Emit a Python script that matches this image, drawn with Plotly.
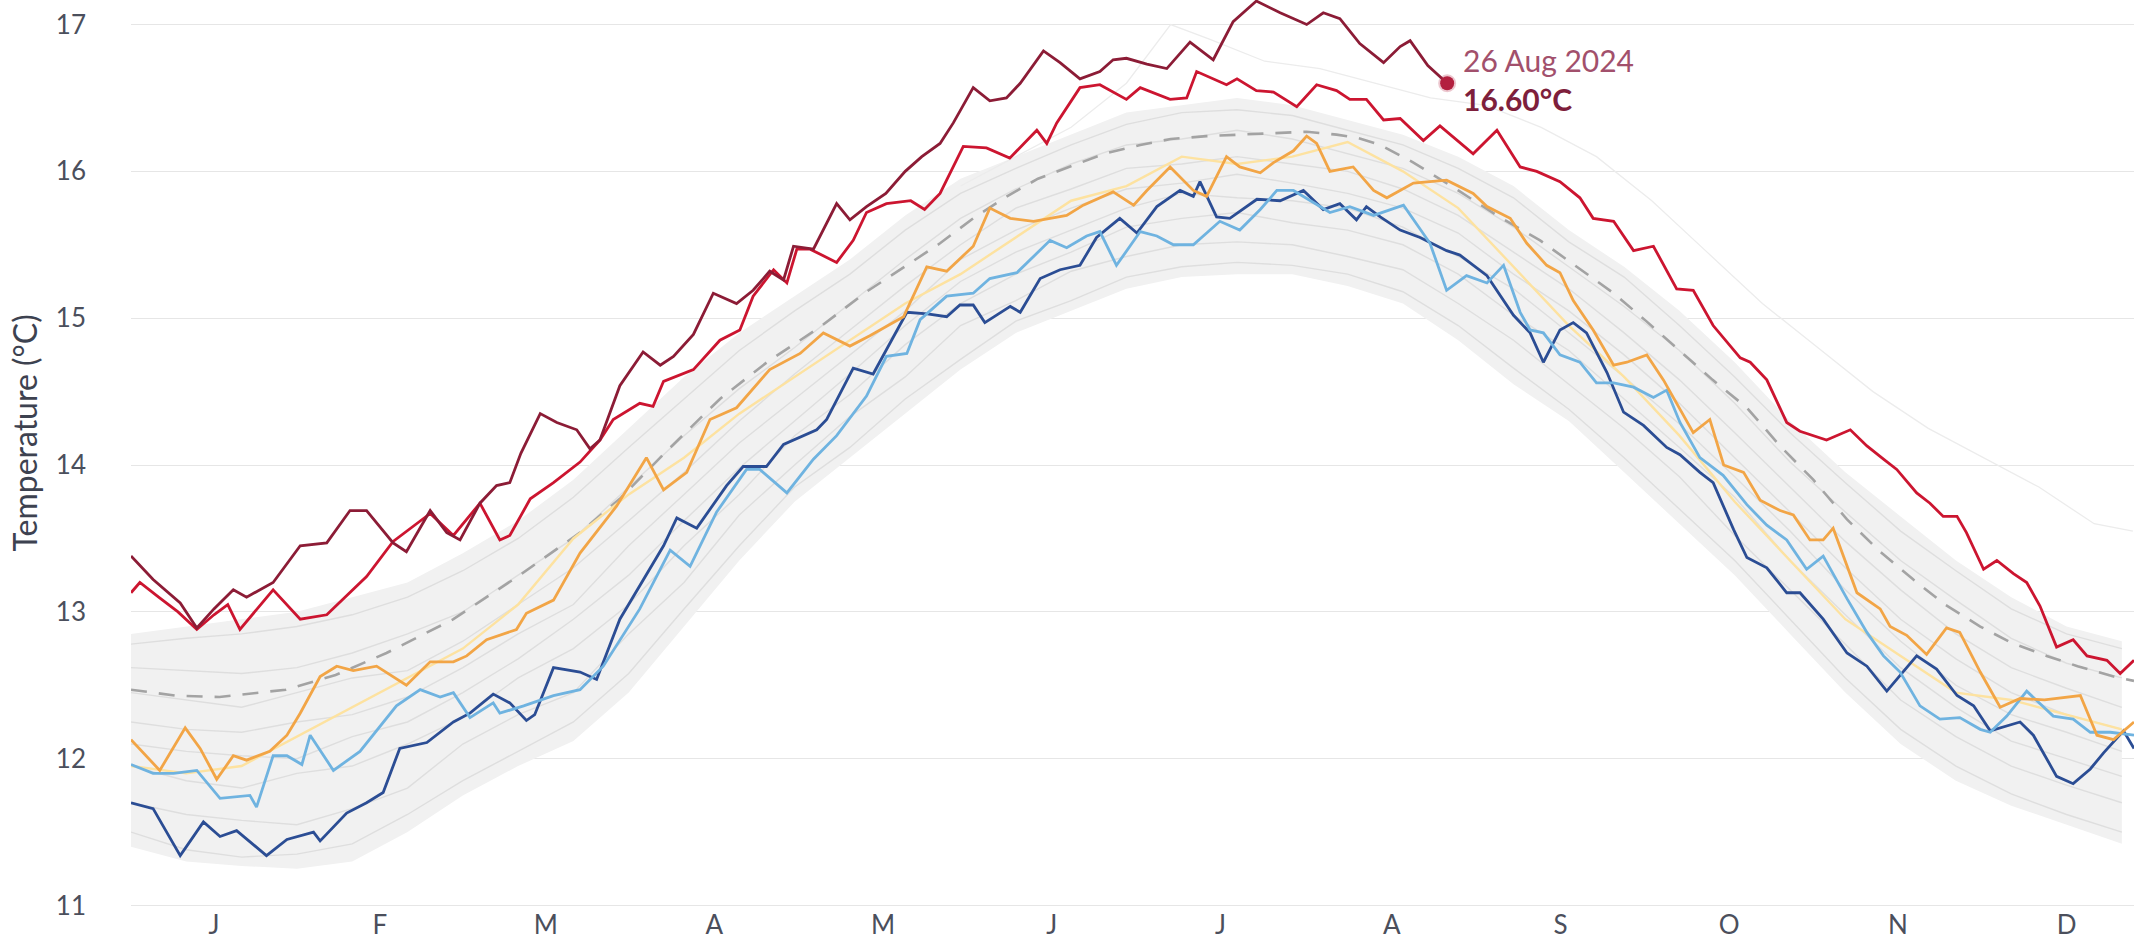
import plotly.graph_objects as go

FONT = "Lato, 'Open Sans', sans-serif"
TICK_COLOR = "#4b4f5c"
GRID_COLOR = "#e6e6e6"

# month labels (day of year, leap-year 2024 calendar)
month_days = [15, 45, 75, 105.5, 136, 166.5, 197, 228, 258.5, 289, 319.5, 350]
month_labels = ["J", "F", "M", "A", "M", "J", "J", "A", "S", "O", "N", "D"]

# 2024 (runs to 26 Aug)
days_2024 = [0, 4, 8.9, 11.9, 15, 18.5, 20.9, 25.7, 30.6, 35.4, 39.6, 42.6, 47.4, 49.8, 54.1, 57.1, 59.5,
             63.1, 66.1, 68.5, 70.5, 74.0, 77.0, 80.6, 83.0, 84.8, 88.4, 92.6, 95.7, 98.1, 101.7, 105.3,
             109.5, 112.5, 115.5, 118.0, 119.8, 123.4, 127.6, 130.0, 133.0, 136.5, 140, 143, 146.3, 148.7,
             152.3, 155.3, 158.3, 160.8, 165.0, 168.0, 171.6, 175.2, 177.6, 180.0, 183.7, 187.3, 191.5,
             195.7, 199.3, 203.5, 207.8, 212.6, 215.6, 218.6, 222.2, 226.5, 229.5, 231.3, 234.5, 238]
temp_2024 = [13.38, 13.22, 13.06, 12.89, 13.02, 13.15, 13.10, 13.20, 13.45, 13.47, 13.69, 13.69, 13.47, 13.41,
             13.69, 13.54, 13.49, 13.74, 13.86, 13.88, 14.08, 14.35, 14.29, 14.24, 14.11, 14.17, 14.54, 14.77,
             14.68, 14.74, 14.89, 15.17, 15.10, 15.19, 15.32, 15.26, 15.49, 15.47, 15.78, 15.67, 15.76, 15.85,
             16.0, 16.1, 16.19, 16.33, 16.57, 16.48, 16.50, 16.60, 16.82, 16.74, 16.63, 16.68, 16.76, 16.77,
             16.73, 16.70, 16.88, 16.76, 17.02, 17.16, 17.08, 17.00, 17.08, 17.04, 16.87, 16.74, 16.85, 16.89,
             16.72, 16.60]

# 2023
days_2023 = [0, 1.6, 5, 8.5, 11.9, 15, 17.5, 19.7, 25.7, 30.6, 35.4, 42.6, 47.4, 54.1, 58.3, 63.1, 66.7, 68.5,
             72.2, 76.4, 81.2, 84.8, 87.2, 92.0, 94.4, 96.3, 101.7, 106.5, 110.1, 112.5, 116.2, 118.6, 120.4,
             122.8, 127.6, 130.6, 133.0, 136.6, 141, 143.5, 146.3, 150.5, 154.7, 158.9, 163.8, 165.6, 167.4,
             171.6, 175.2, 180.0, 182.5, 187.9, 190.9, 192.7, 198.1, 200.0, 203.5, 206.6, 210.8, 214.4, 218.0,
             220.4, 223.4, 226.5, 229.5, 233.7, 236.7, 242.7, 247.0, 251.2, 254.2, 258.4, 262.0, 264.4, 268.1,
             271.7, 275.3, 279.5, 282.5, 286.1, 291.0, 292.8, 295.8, 299.4, 301.8, 304.2, 306.6, 310.9, 313.9,
             316.9, 319.3, 322.9, 325.3, 327.7, 330.2, 331.9, 335.0, 337.4, 340.4, 342.8, 345.2, 348.2, 351.2,
             353.7, 357.3, 359.7, 362.2]
temp_2023 = [13.13, 13.20, 13.10, 13.00, 12.88, 12.98, 13.05, 12.88, 13.15, 12.95, 12.98, 13.24, 13.48, 13.67,
             13.52, 13.74, 13.49, 13.52, 13.77, 13.88, 14.02, 14.17, 14.31, 14.42, 14.40, 14.57, 14.65, 14.85,
             14.92, 15.15, 15.33, 15.24, 15.47, 15.47, 15.38, 15.53, 15.72, 15.78, 15.80, 15.74, 15.85, 16.17,
             16.16, 16.09, 16.28, 16.19, 16.33, 16.57, 16.59, 16.49, 16.57, 16.49, 16.50, 16.68, 16.59, 16.63,
             16.55, 16.54, 16.44, 16.59, 16.55, 16.49, 16.49, 16.35, 16.36, 16.21, 16.31, 16.12, 16.28, 16.03,
             16.00, 15.93, 15.82, 15.68, 15.66, 15.46, 15.49, 15.20, 15.19, 14.95, 14.73, 14.70, 14.58, 14.29,
             14.23, 14.20, 14.17, 14.24, 14.13, 14.04, 13.97, 13.81, 13.74, 13.65, 13.65, 13.54, 13.29, 13.35,
             13.26, 13.20, 13.04, 12.76, 12.81, 12.70, 12.67, 12.58, 12.67]

# orange year
days_orange = [0, 5.2, 9.8, 12.5, 15.5, 18.5, 20.9, 25.1, 28.2, 30.6, 34.2, 37.2, 40.2, 44.4, 49.8, 54.1, 58.3,
               60.7, 64.3, 69.7, 71.5, 76.4, 81.2, 87.8, 93.2, 96.3, 100.5, 104.7, 109.5, 115.5, 121.0, 125.2,
               130.0, 133.6, 139.7, 143.9, 147.5, 152.3, 155.3, 159.0, 163.2, 169.2, 172.2, 177.6, 181.3, 183.7,
               187.9, 192.1, 194.5, 198.1, 200.5, 204.2, 206.6, 210.2, 212.6, 214.4, 216.8, 221.0, 224.7, 227.1,
               231.9, 237.9, 242.7, 245.2, 249.4, 252.4, 256.0, 258.4, 260.8, 264.4, 268.1, 270.5, 274.1, 277.1,
               282.5, 285.5, 288.0, 291.6, 294.6, 298.2, 300.6, 303.6, 306.0, 307.8, 312.1, 316.3, 318.1, 321.1,
               324.7, 328.3, 330.7, 334.4, 338.0, 341.6, 346.0, 352.5, 355.5, 358.5, 362.2]
temp_orange = [12.13, 11.92, 12.21, 12.07, 11.86, 12.02, 11.99, 12.05, 12.16, 12.31, 12.56, 12.63, 12.60, 12.63,
               12.50, 12.66, 12.66, 12.70, 12.81, 12.88, 12.99, 13.08, 13.40, 13.72, 14.05, 13.83, 13.95, 14.31,
               14.39, 14.65, 14.76, 14.90, 14.81, 14.88, 15.01, 15.35, 15.32, 15.49, 15.75, 15.68, 15.66, 15.70,
               15.77, 15.86, 15.77, 15.87, 16.03, 15.87, 15.83, 16.10, 16.03, 15.99, 16.06, 16.14, 16.24, 16.19,
               16.00, 16.03, 15.87, 15.82, 15.92, 15.94, 15.85, 15.76, 15.68, 15.51, 15.36, 15.31, 15.12, 14.92,
               14.68, 14.70, 14.75, 14.58, 14.22, 14.31, 14.00, 13.95, 13.76, 13.69, 13.66, 13.49, 13.49, 13.57,
               13.13, 13.02, 12.90, 12.84, 12.71, 12.89, 12.86, 12.59, 12.35, 12.41, 12.40, 12.43, 12.16, 12.13,
               12.25]

# light blue year
days_lightblue = [0, 4.0, 7.7, 11.9, 16.1, 21.5, 22.7, 25.7, 28.2, 30.9, 32.4, 36.6, 41.4, 48.0, 52.3, 55.9, 58.3,
                  61.3, 65.5, 66.7, 71, 76.4, 81.2, 85.4, 92.0, 97.5, 101.1, 105.9, 111.3, 113.7, 118.6, 123.4,
                  127.6, 133.0, 136.6, 140.3, 142.7, 147.5, 152.3, 155.3, 160.2, 166.2, 169.2, 172.8, 175.2, 178.2,
                  182.5, 185.5, 188.5, 192.1, 196.9, 200.5, 204.2, 207.2, 210.2, 213.2, 216.8, 220.4, 224.7, 230.1,
                  234.9, 237.9, 241.5, 245.2, 248.2, 251.2, 253.0, 255.4, 258.4, 262.0, 265.0, 268.1, 271.7, 275.3,
                  277.7, 280.1, 283.7, 287.9, 292.2, 295.8, 299.4, 303.0, 306.0, 310.3, 313.9, 316.9, 319.9, 323.5,
                  327.1, 330.7, 334.4, 336.2, 339.2, 342.8, 347.6, 351.2, 354.3, 357.9, 362.2]
temp_lightblue = [11.96, 11.90, 11.90, 11.92, 11.73, 11.75, 11.67, 12.02, 12.02, 11.96, 12.16, 11.92, 12.05, 12.36,
                  12.47, 12.42, 12.45, 12.28, 12.38, 12.31, 12.36, 12.43, 12.47, 12.63, 13.02, 13.42, 13.31, 13.68,
                  13.97, 13.97, 13.81, 14.04, 14.20, 14.47, 14.74, 14.76, 14.99, 15.15, 15.17, 15.27, 15.31, 15.53,
                  15.48, 15.56, 15.59, 15.36, 15.59, 15.56, 15.50, 15.50, 15.66, 15.60, 15.74, 15.87, 15.87, 15.80,
                  15.72, 15.76, 15.70, 15.77, 15.51, 15.19, 15.29, 15.24, 15.36, 15.04, 14.92, 14.90, 14.75, 14.70,
                  14.56, 14.56, 14.53, 14.46, 14.51, 14.29, 14.05, 13.93, 13.73, 13.59, 13.49, 13.29, 13.38, 13.09,
                  12.86, 12.70, 12.59, 12.36, 12.27, 12.28, 12.20, 12.18, 12.29, 12.46, 12.29, 12.27, 12.18, 12.18,
                  12.16]

# dark blue year
days_darkblue = [0, 4.0, 8.9, 13.1, 16.1, 19.1, 24.5, 28.2, 33.0, 34.2, 39.0, 42.6, 45.6, 48.6, 53.5, 58.3, 61.3,
                 65.5, 68.5, 71.5, 73.0, 76.4, 81.2, 84.2, 88.4, 92.6, 96.3, 98.7, 102.3, 107.7, 110.7, 114.9,
                 118.0, 124.0, 125.8, 130.6, 134.2, 140.3, 144, 147.5, 149.9, 152.3, 154.4, 159.0, 160.8, 164.4,
                 168.0, 171.6, 174.6, 178.8, 181.9, 185.5, 189.7, 192.1, 193.3, 196.3, 198.7, 203.6, 207.8, 212.0,
                 215.6, 218.6, 221.6, 223.4, 225.9, 229.5, 233.1, 237.9, 240.3, 245.2, 250.0, 253.0, 255.4, 258.4,
                 260.8, 263.2, 266.9, 269.9, 273.5, 277.7, 280.1, 283.7, 286.1, 289.8, 292.2, 295.8, 299.4, 301.8,
                 306.0, 310.3, 313.9, 317.5, 322.9, 326.5, 330.2, 333.2, 336.2, 341.6, 344.0, 348.2, 351.2, 354.3,
                 356.7, 360.3, 362.2]
temp_darkblue = [11.70, 11.66, 11.34, 11.57, 11.47, 11.51, 11.34, 11.45, 11.50, 11.44, 11.63, 11.70, 11.77, 12.07,
                 12.11, 12.25, 12.31, 12.44, 12.38, 12.26, 12.30, 12.62, 12.59, 12.54, 12.95, 13.22, 13.45, 13.64,
                 13.57, 13.86, 13.99, 13.99, 14.14, 14.24, 14.31, 14.66, 14.62, 15.04, 15.03, 15.01, 15.09, 15.09,
                 14.97, 15.08, 15.04, 15.27, 15.33, 15.36, 15.55, 15.68, 15.58, 15.76, 15.87, 15.83, 15.93, 15.69,
                 15.68, 15.81, 15.80, 15.87, 15.74, 15.78, 15.67, 15.76, 15.69, 15.60, 15.55, 15.46, 15.43, 15.29,
                 15.02, 14.90, 14.70, 14.92, 14.97, 14.90, 14.63, 14.36, 14.27, 14.12, 14.07, 13.95, 13.88, 13.56,
                 13.37, 13.30, 13.13, 13.13, 12.95, 12.72, 12.63, 12.46, 12.70, 12.61, 12.43, 12.36, 12.19, 12.25,
                 12.16, 11.88, 11.83, 11.93, 12.04, 12.19, 12.07]

# 1991-2020 mean (dashed)
days_mean = [0, 8, 16, 28, 37, 46.2, 58.3, 70.3, 81.2, 88.4, 97, 106.5, 115, 124.6, 133, 142.7, 146.3, 152.3,
             158.4, 164, 170.4, 176, 182.5, 188, 194.5, 200, 206.6, 212.6, 218, 221.6, 225.9, 231.9, 240, 247,
             254.8, 261, 268.1, 274, 280.1, 286, 292.2, 298.2, 304.2, 310.3, 316, 322.3, 328, 334.4, 340, 346.4,
             352, 358.5, 362.2]
temp_mean = [12.47, 12.43, 12.42, 12.47, 12.57, 12.72, 12.95, 13.25, 13.54, 13.77, 14.10, 14.45, 14.70, 14.94,
             15.18, 15.42, 15.51, 15.68, 15.83, 15.95, 16.04, 16.12, 16.18, 16.22, 16.24, 16.25, 16.26, 16.27,
             16.25, 16.23, 16.18, 16.06, 15.87, 15.70, 15.53, 15.36, 15.17, 14.98, 14.78, 14.58, 14.39, 14.13,
             13.90, 13.63, 13.42, 13.22, 13.05, 12.90, 12.79, 12.70, 12.63, 12.56, 12.53]

# other years: 10-day readings
days_grey = [0, 10, 20, 30, 40, 50, 60, 70, 80, 90, 100, 110, 120, 130, 140, 150, 160, 170, 180, 190, 200, 210,
             220, 230, 240, 250, 260, 270, 280, 290, 300, 310, 320, 330, 340, 350, 360]
temp_pale = [11.95, 11.90, 11.95, 12.15, 12.35, 12.55, 12.75, 13.05, 13.50, 13.80, 14.05, 14.35, 14.60, 14.85,
             15.10, 15.30, 15.55, 15.80, 15.90, 16.10, 16.05, 16.10, 16.20, 16.00, 15.75, 15.35, 14.95, 14.60,
             14.20, 13.75, 13.35, 12.95, 12.70, 12.45, 12.40, 12.30, 12.20]
grey_top = [12.85, 12.90, 12.95, 13.00, 13.10, 13.20, 13.40, 13.62, 13.90, 14.25, 14.60, 14.90, 15.15, 15.40,
            15.70, 15.95, 16.10, 16.25, 16.40, 16.45, 16.50, 16.45, 16.35, 16.25, 16.10, 15.90, 15.60, 15.35,
            15.05, 14.70, 14.30, 13.95, 13.65, 13.35, 13.10, 12.90, 12.80]
grey_bottom = [11.40, 11.30, 11.27, 11.25, 11.30, 11.50, 11.75, 11.95, 12.12, 12.45, 12.90, 13.35, 13.75, 14.05,
               14.35, 14.65, 14.90, 15.05, 15.20, 15.28, 15.30, 15.30, 15.22, 15.10, 14.85, 14.55, 14.30, 13.95,
               13.60, 13.25, 12.85, 12.45, 12.10, 11.85, 11.68, 11.55, 11.42]
grey_years = [
    [11.50, 11.38, 11.33, 11.35, 11.42, 11.62, 11.85, 12.05, 12.25, 12.58, 13.02, 13.45, 13.85, 14.12, 14.45, 14.72,
     14.98, 15.12, 15.28, 15.35, 15.38, 15.36, 15.30, 15.18, 14.95, 14.66, 14.38, 14.05, 13.70, 13.35, 12.95, 12.55,
     12.20, 11.95, 11.76, 11.62, 11.50],
    [11.70, 11.62, 11.58, 11.55, 11.66, 11.80, 12.10, 12.30, 12.45, 12.85, 13.20, 13.66, 14.00, 14.33, 14.60, 14.95,
     15.12, 15.32, 15.42, 15.50, 15.52, 15.50, 15.42, 15.33, 15.10, 14.85, 14.55, 14.25, 13.92, 13.52, 13.15, 12.78,
     12.40, 12.15, 11.95, 11.82, 11.70],
    [11.95, 11.85, 11.80, 11.90, 11.95, 12.10, 12.28, 12.55, 12.75, 13.05, 13.45, 13.80, 14.20, 14.48, 14.82, 15.10,
     15.30, 15.45, 15.62, 15.68, 15.72, 15.65, 15.60, 15.50, 15.30, 15.02, 14.78, 14.45, 14.12, 13.78, 13.35, 12.98,
     12.62, 12.35, 12.12, 12.00, 11.88],
    [12.10, 12.05, 12.02, 12.00, 12.15, 12.25, 12.45, 12.68, 12.95, 13.25, 13.62, 13.98, 14.30, 14.62, 14.95, 15.25,
     15.45, 15.60, 15.75, 15.85, 15.82, 15.80, 15.75, 15.62, 15.42, 15.20, 14.90, 14.60, 14.28, 13.92, 13.55, 13.15,
     12.80, 12.50, 12.30, 12.18, 12.05],
    [12.25, 12.20, 12.18, 12.25, 12.30, 12.42, 12.62, 12.85, 13.05, 13.45, 13.80, 14.15, 14.45, 14.75, 15.05, 15.40,
     15.60, 15.75, 15.88, 15.92, 15.98, 15.92, 15.85, 15.75, 15.58, 15.30, 15.05, 14.75, 14.42, 14.05, 13.68, 13.30,
     12.95, 12.68, 12.45, 12.30, 12.20],
    [12.45, 12.40, 12.35, 12.45, 12.55, 12.60, 12.80, 13.05, 13.30, 13.62, 13.95, 14.30, 14.62, 14.92, 15.22, 15.50,
     15.75, 15.88, 16.02, 16.05, 16.10, 16.05, 16.00, 15.88, 15.70, 15.45, 15.20, 14.90, 14.58, 14.22, 13.85, 13.48,
     13.15, 12.85, 12.62, 12.48, 12.35],
    [12.62, 12.60, 12.58, 12.62, 12.72, 12.85, 13.00, 13.25, 13.50, 13.85, 14.20, 14.52, 14.80, 15.10, 15.40, 15.68,
     15.88, 16.05, 16.18, 16.22, 16.28, 16.22, 16.12, 16.02, 15.85, 15.62, 15.35, 15.08, 14.78, 14.42, 14.02, 13.68,
     13.35, 13.08, 12.82, 12.65, 12.55],
    [12.78, 12.82, 12.85, 12.90, 12.98, 13.10, 13.28, 13.50, 13.78, 14.12, 14.45, 14.78, 15.05, 15.30, 15.60, 15.85,
     16.02, 16.18, 16.32, 16.40, 16.42, 16.38, 16.28, 16.18, 16.02, 15.82, 15.52, 15.28, 14.95, 14.60, 14.22, 13.88,
     13.55, 13.28, 13.02, 12.85, 12.75],
]
days_high = [150, 160, 170, 180, 188, 195, 205, 215, 225, 235, 245, 255, 265, 275, 285, 295, 305, 315, 325, 335,
             345, 355, 362]
temp_high = [15.90, 16.10, 16.30, 16.60, 17.00, 16.90, 16.75, 16.70, 16.60, 16.50, 16.45, 16.30, 16.10, 15.80,
             15.45, 15.10, 14.80, 14.50, 14.25, 14.05, 13.85, 13.60, 13.55]

fig = go.Figure()

# grey envelope of the other years
fig.add_trace(go.Scatter(x=days_grey, y=grey_bottom, mode="lines", line=dict(width=0, color="#f0f0f0"),
                         hoverinfo="skip"))
fig.add_trace(go.Scatter(x=days_grey, y=grey_top, mode="lines", line=dict(width=0, color="#f0f0f0"),
                         fill="tonexty", fillcolor="#f1f1f1", hoverinfo="skip"))
for temps in grey_years:
    fig.add_trace(go.Scatter(x=days_grey, y=temps, mode="lines", line=dict(width=1.4, color="#dedede"),
                             hoverinfo="skip"))
fig.add_trace(go.Scatter(x=days_high, y=temp_high, mode="lines", line=dict(width=1.3, color="#ececec"),
                         hoverinfo="skip"))

fig.add_trace(go.Scatter(x=days_mean, y=temp_mean, mode="lines",
                         line=dict(width=2.6, color="#a3a3a3", dash="16px,12px")))
fig.add_trace(go.Scatter(x=days_grey, y=temp_pale, mode="lines", line=dict(width=2.4, color="#fde2a0")))

highlight = [
    (days_darkblue, temp_darkblue, "#2b4d94"),
    (days_lightblue, temp_lightblue, "#6fb3e0"),
    (days_orange, temp_orange, "#f2a546"),
    (days_2023, temp_2023, "#cc1530"),
    (days_2024, temp_2024, "#8c1c36"),
]
for xs, ys, color in highlight:
    fig.add_trace(go.Scatter(x=xs, y=ys, mode="lines", line=dict(width=2.8, color=color)))

# latest value marker
fig.add_trace(go.Scatter(x=days_2024[-1:], y=temp_2024[-1:], mode="markers",
                         marker=dict(size=14, color="#b3203f",
                                     line=dict(width=4, color="rgba(179,32,63,0.25)"))))

fig.add_annotation(
    x=days_2024[-1], y=temp_2024[-1], xanchor="left", yanchor="middle", xshift=14, yshift=4,
    align="left", showarrow=False,
    text="<span style='color:#a2506c'>26 Aug 2024</span><br>"
         "<b><span style='color:#7e1f3c'>16.60°C</span></b>",
    font=dict(family=FONT, size=30),
)

# y axis title, placed like the source (centred a little above the plot middle)
fig.add_annotation(
    text="Temperature (°C)", textangle=-90, showarrow=False,
    xref="paper", yref="paper", x=-0.053, y=0.523, xanchor="center", yanchor="middle",
    font=dict(family=FONT, size=32, color="#3d4250"),
)

fig.update_xaxes(
    range=[0, 362.2],
    tickvals=month_days,
    ticktext=month_labels,
    showgrid=False,
    zeroline=False,
    showline=False,
    ticks="",
    tickfont=dict(family=FONT, size=26, color=TICK_COLOR),
)
fig.update_yaxes(
    range=[10.99, 17.167],
    tickvals=[11, 12, 13, 14, 15, 16, 17],
    showgrid=True,
    gridcolor=GRID_COLOR,
    gridwidth=1.2,
    zeroline=False,
    showline=False,
    ticks="",
    ticklabelstandoff=44,
    tickfont=dict(family=FONT, size=26, color=TICK_COLOR),
)
fig.update_layout(
    width=2134,
    height=951,
    margin=dict(l=131, r=0, t=0, b=44),
    plot_bgcolor="white",
    paper_bgcolor="white",
    showlegend=False,
    hovermode=False,
    font=dict(family=FONT, color=TICK_COLOR),
)

fig.write_html("out.html", config={"displayModeBar": False},
               post_script="document.body.style.margin='0';document.body.style.overflow='hidden';")
